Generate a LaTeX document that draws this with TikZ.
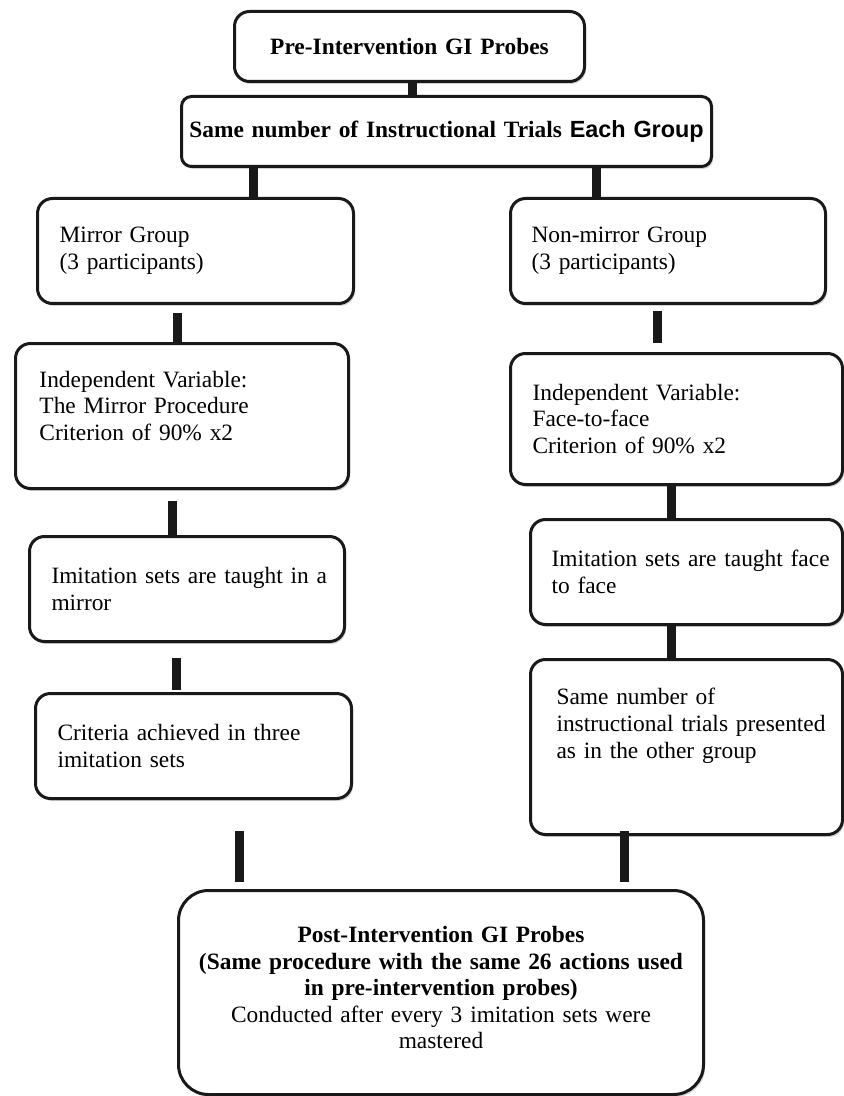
\documentclass[tikz,border=0pt]{standalone}
\usepackage{fontspec}
\setmainfont{Liberation Serif}
\newfontfamily\sansfam{Liberation Sans}
\usetikzlibrary{shadows,calc}

\newcommand\flowbox[8]{%
 \pgfmathsetmacro\bxw{(#4-#2)*0.5}%
 \pgfmathsetmacro\bxh{(#5-#3)*0.5}%
 \pgfmathsetmacro\bxs{#6*0.5}%
 \pgfmathsetmacro\bxt{(#4-#2-2*#6)*0.5}%
 \node[box, anchor=north west, minimum width=\bxw pt, minimum height=\bxh pt,
       inner xsep=\bxs pt, text width=\bxt pt, #7] (#1) at (#2,#3) {#8};%
}
\newcommand\oneline[1]{\mbox{#1}}

\tikzset{
 box/.style={draw=black!90, line width=1.5pt, rounded corners=7.5pt, fill=white,
   inner ysep=0pt, align=left, font=\fontsize{11.7pt}{13.4pt}\selectfont,
   drop shadow={shadow xshift=0.8pt, shadow yshift=-1.2pt, fill=black!30, opacity=0.6}},
 conn/.style={line width=4.5pt, black!90},
}

\begin{document}
\begin{tikzpicture}[x=0.5pt, y=-0.5pt]
\useasboundingbox (0,0) rectangle (844,1096);

\flowbox{pre}{233}{10}{583}{80}{10}{align=center}{\oneline{\textbf{Pre-Intervention GI Probes}}}
\flowbox{same}{180}{95}{710}{165}{3}{align=center, rounded corners=5pt}{\oneline{\textbf{Same number of Instructional Trials {\sansfam Each Group}}}}

\flowbox{mg}{36}{197}{352}{302}{22}{}{\oneline{Mirror Group}\\\oneline{(3 participants)}}
\flowbox{nm}{509}{197}{824}{302}{21}{}{\oneline{Non-mirror Group}\\\oneline{(3 participants)}}

\flowbox{iv1}{14}{342}{347}{487}{24}{text depth=37pt}{\oneline{Independent Variable:}\\\oneline{The Mirror Procedure}\\\oneline{Criterion of 90\% x2}}
\flowbox{iv2}{509}{352}{841}{483}{22}{}{\oneline{Independent Variable:}\\\oneline{Face-to-face}\\\oneline{Criterion of 90\% x2}}

\flowbox{im1}{28}{535}{343}{640}{22}{}{\oneline{Imitation sets are taught in a}\\\oneline{mirror}}
\flowbox{im2}{529}{518}{841}{623}{21}{}{\oneline{Imitation sets are taught face}\\\oneline{to face}}

\flowbox{cr}{34}{692}{350}{797}{22}{}{\oneline{Criteria achieved in three}\\\oneline{imitation sets}}
\flowbox{sn}{529}{658}{841}{833}{26}{text depth=50.3pt}{\oneline{Same number of}\\\oneline{instructional trials presented}\\\oneline{as in the other group}}

\flowbox{post}{177}{889}{702}{1093}{10}{align=center, rounded corners=15pt, font=\fontsize{11.7pt}{13.25pt}\selectfont, text depth=58pt}{\oneline{\textbf{Post-Intervention GI Probes}}\\\oneline{\textbf{(Same procedure with the same 26 actions used}}\\\oneline{\textbf{in pre-intervention probes)}}\\\oneline{Conducted after every 3 imitation sets were}\\\oneline{mastered}}

\draw[conn] ($(pre.south)+(3,0)$) -- ($(same.north)+(-34,0)$);
\draw[conn] ($(same.south)+(-193,0)$) -- ($(mg.north)+(58,0)$);
\draw[conn] ($(same.south)+(150,0)$) -- ($(nm.north)+(-71.5,0)$);
\draw[conn] ($(mg.south)+(-18,8)$) -- ($(iv1.north)+(-4.5,0)$);
\draw[conn] ($(nm.south)+(-10.5,6)$) -- ($(iv2.north)+(-19,-9)$);
\draw[conn] ($(iv1.south)+(-9.5,11)$) -- ($(im1.north)+(-14.5,0)$);
\draw[conn] ($(iv2.south)+(-5,0)$) -- ($(im2.north)+(-15,0)$);
\draw[conn] ($(im1.south)+(-10.5,15)$) -- ($(cr.north)+(-17,-2)$);
\draw[conn] ($(im2.south)+(-15,0)$) -- ($(sn.north)+(-15,0)$);
\draw[conn] ($(cr.south)+(46,31)$) -- ($(post.north)+(-201.5,-7)$);
\draw[conn] ($(sn.south)+(-62,-5)$) -- ($(post.north)+(183.5,-7)$);
\end{tikzpicture}
\end{document}
